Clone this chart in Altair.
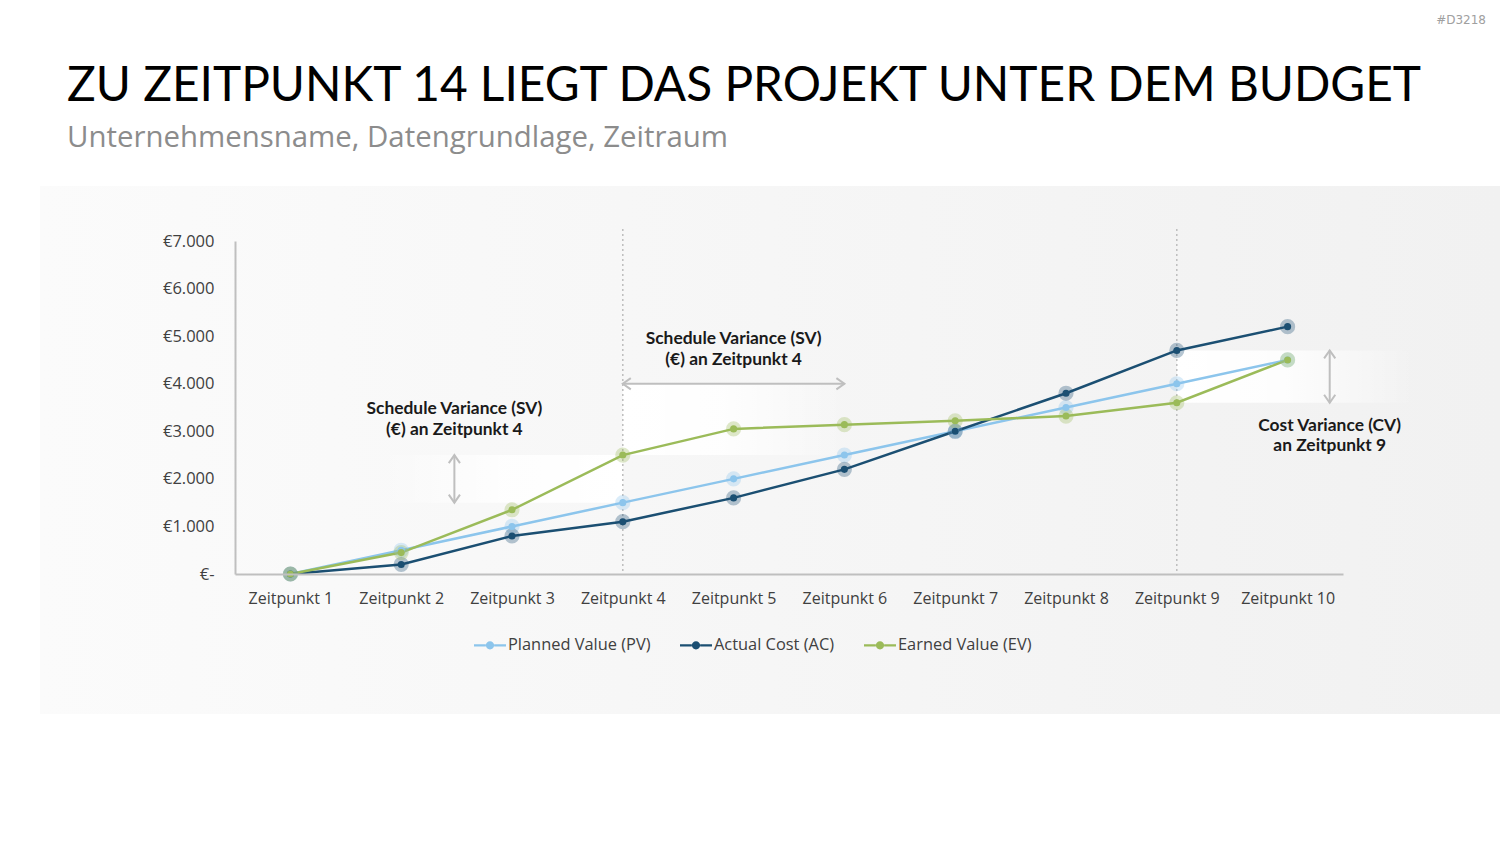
import altair as alt
import pandas as pd

# ---- data -------------------------------------------------------------
zeitpunkte = ["Zeitpunkt 1", "Zeitpunkt 2", "Zeitpunkt 3", "Zeitpunkt 4", "Zeitpunkt 5",
              "Zeitpunkt 6", "Zeitpunkt 7", "Zeitpunkt 8", "Zeitpunkt 9", "Zeitpunkt 10"]
planned_value = [0, 500, 1000, 1500, 2000, 2500, 3000, 3500, 4000, 4500]
actual_cost = [0, 200, 800, 1100, 1600, 2200, 3000, 3800, 4700, 5200]
earned_value = [0, 450, 1350, 2500, 3050, 3140, 3220, 3320, 3600, 4500]
series_names = ["Planned Value (PV)", "Actual Cost (AC)", "Earned Value (EV)"]
series_colors = ["#8cc5ec", "#1b4f72", "#9bbb59"]
y_ticks = [0, 1000, 2000, 3000, 4000, 5000, 6000, 7000]

title_text = "ZU ZEITPUNKT 14 LIEGT DAS PROJEKT UNTER DEM BUDGET"
subtitle_text = "Unternehmensname, Datengrundlage, Zeitraum"
code_text = "#D3218"

# annotation lines: text, x (time index), y (EUR)
note_text = ["Schedule Variance (SV)", "(€) an Zeitpunkt 4",
             "Schedule Variance (SV)", "(€) an Zeitpunkt 4",
             "Cost Variance (CV)", "an Zeitpunkt 9"]
note_x = [2.48, 2.48, 5.0, 5.0, 10.38, 10.38]
note_y = [3470, 3030, 4940, 4500, 3110, 2690]

# double arrows (start/end in data units)
arrow_x1 = [2.48, 4.0, 10.38]
arrow_x2 = [2.48, 6.0, 10.38]
arrow_y1 = [1500, 4000, 3600]
arrow_y2 = [2500, 4000, 4700]

marker_x = [4, 9]

# ---- tables -----------------------------------------------------------
idx = list(range(1, len(zeitpunkte) + 1))
rows = []
for name, vals in zip(series_names, [planned_value, actual_cost, earned_value]):
    for i, v in zip(idx, vals):
        rows.append({"t": i, "wert": v, "serie": name})
series_df = pd.DataFrame(rows)

notes_df = pd.DataFrame({"text": note_text, "x": note_x, "y": note_y})
shafts_df = pd.DataFrame({"x": arrow_x1, "x2": arrow_x2, "y": arrow_y1, "y2": arrow_y2})

UP = "M-0.7,1L0,0L0.7,1"
DOWN = "M-0.7,-1L0,0L0.7,-1"
LEFT = "M1,-0.7L0,0L1,0.7"
RIGHT = "M-1,-0.7L0,0L-1,0.7"
heads = []
for x1, x2, y1, y2 in zip(arrow_x1, arrow_x2, arrow_y1, arrow_y2):
    if x1 == x2:
        heads.append({"x": x1, "y": y1, "s": DOWN})
        heads.append({"x": x1, "y": y2, "s": UP})
    else:
        heads.append({"x": x1, "y": y1, "s": LEFT})
        heads.append({"x": x2, "y": y2, "s": RIGHT})
heads_df = pd.DataFrame(heads)

markers_df = pd.DataFrame({"t": marker_x})
bands_a = pd.DataFrame({"x": [1.78], "x2": [4.0], "y": [1500], "y2": [2500]})
bands_b = pd.DataFrame({"x": [4.0, 9.0], "x2": [6.0, 11.15], "y": [2500, 3600], "y2": [4000, 4700]})
one = pd.DataFrame({"k": [0]})

# ---- scales -----------------------------------------------------------
xs = alt.Scale(domain=[0.5, 10.5], nice=False, zero=False)
ys = alt.Scale(domain=[0, 7000], nice=False)


def series_scale():
    return alt.Scale(domain=series_names, range=series_colors)


label_list = "[" + ",".join("'" + z + "'" for z in zeitpunkte) + "]"
x_axis = alt.Axis(values=idx, labelExpr=label_list + "[datum.value - 1]", title=None,
                  grid=False, ticks=False, domainColor="#bfbfbf", domainWidth=2,
                  labelPadding=16, labelFont="Open Sans", labelFontSize=16,
                  labelColor="#404040", zindex=1)
y_axis = alt.Axis(values=y_ticks,
                  labelExpr="datum.value == 0 ? '€-' : '€' + replace(format(datum.value, ','), ',', '.')",
                  title=None, grid=False, ticks=False, domainColor="#bfbfbf", domainWidth=2,
                  labelPadding=21, labelFont="Open Sans", labelFontSize=16.5,
                  labelColor="#404040", zindex=1)

W, H = 1108, 333

# ---- layers -----------------------------------------------------------
panel = alt.Chart(one).mark_rect(
    fill=alt.LinearGradient(gradient="linear", x1=0, x2=1, y1=0, y2=0,
                            stops=[alt.GradientStop(offset=0, color="#fbfbfb"),
                                   alt.GradientStop(offset=1, color="#f1f1f1")])
).encode(x=alt.value(-195), x2=alt.value(1265), y=alt.value(-55), y2=alt.value(473))

band_left = alt.Chart(bands_a).mark_rect(
    fill=alt.LinearGradient(gradient="linear", x1=0, x2=1, y1=0, y2=0,
                            stops=[alt.GradientStop(offset=0, color="rgba(255,255,255,0)"),
                                   alt.GradientStop(offset=0.5, color="rgba(255,255,255,0.8)"),
                                   alt.GradientStop(offset=1, color="#ffffff")])
).encode(x=alt.X("x:Q", scale=xs, axis=x_axis), x2="x2:Q",
         y=alt.Y("y:Q", scale=ys, axis=y_axis), y2="y2:Q")

band_right = alt.Chart(bands_b).mark_rect(
    fill=alt.LinearGradient(gradient="linear", x1=0, x2=1, y1=0, y2=0,
                            stops=[alt.GradientStop(offset=0, color="#ffffff"),
                                   alt.GradientStop(offset=0.45, color="rgba(255,255,255,0.85)"),
                                   alt.GradientStop(offset=1, color="rgba(255,255,255,0)")])
).encode(x=alt.X("x:Q", scale=xs), x2="x2:Q", y=alt.Y("y:Q", scale=ys), y2="y2:Q")

markers = alt.Chart(markers_df).mark_rule(color="#bdbdbd", strokeWidth=1.5, strokeDash=[2, 3]).encode(
    x=alt.X("t:Q", scale=xs), y=alt.value(-12), y2=alt.value(H))

shafts = alt.Chart(shafts_df).mark_rule(color="#bfbfbf", strokeWidth=2).encode(
    x=alt.X("x:Q", scale=xs), x2="x2:Q", y=alt.Y("y:Q", scale=ys), y2="y2:Q")

heads_layer = alt.Chart(heads_df).mark_point(filled=False, color="#bfbfbf", strokeWidth=2,
                                             size=256, opacity=1).encode(
    x=alt.X("x:Q", scale=xs), y=alt.Y("y:Q", scale=ys),
    shape=alt.Shape("s:N", scale=None, legend=None))

lines = alt.Chart(series_df).mark_line(strokeWidth=2.5).encode(
    x=alt.X("t:Q", scale=xs), y=alt.Y("wert:Q", scale=ys),
    stroke=alt.Stroke("serie:N", scale=series_scale(), legend=None), detail="serie:N")

halos = alt.Chart(series_df).mark_circle(size=230, opacity=0.32).encode(
    x=alt.X("t:Q", scale=xs), y=alt.Y("wert:Q", scale=ys),
    fill=alt.Fill("serie:N", scale=series_scale(), legend=None))

dots = alt.Chart(series_df).mark_circle(size=50, opacity=1).encode(
    x=alt.X("t:Q", scale=xs), y=alt.Y("wert:Q", scale=ys),
    color=alt.Color("serie:N", scale=series_scale(), sort=series_names, legend=alt.Legend(
        title=None, orient="none", direction="horizontal", legendX=239, legendY=388,
        symbolType="M-1,-0.07H-0.26V0.07H-1Z M0.26,-0.07H1V0.07H0.26Z "
                   "M-0.26,0A0.26,0.26 0 1,0 0.26,0A0.26,0.26 0 1,0 -0.26,0Z",
        symbolSize=1024, symbolStrokeWidth=0, symbolOpacity=1, labelOffset=2,
        columnPadding=29, labelFont="Open Sans", labelFontSize=16.4,
        labelColor="#404040", zindex=1)))

notes = alt.Chart(notes_df).mark_text(font="Lato", fontWeight="bold", fontSize=17.4,
                                      color="#1a1a1a", align="center", baseline="middle").encode(
    x=alt.X("x:Q", scale=xs), y=alt.Y("y:Q", scale=ys), text="text:N")

title = alt.Chart(pd.DataFrame({"text": [title_text]})).mark_text(
    font="Lato", fontSize=47.8, color="#000000", align="left", baseline="alphabetic").encode(
    x=alt.value(-168), y=alt.value(-140), text="text:N")

subtitle = alt.Chart(pd.DataFrame({"text": [subtitle_text]})).mark_text(
    font="Open Sans", fontSize=29.4, color="#8c8c8c", align="left", baseline="alphabetic").encode(
    x=alt.value(-168), y=alt.value(-94), text="text:N")

code = alt.Chart(pd.DataFrame({"text": [code_text]})).mark_text(
    font="DejaVu Sans", fontSize=12, color="#a0a0a0", align="right", baseline="middle").encode(
    x=alt.value(1251), y=alt.value(-221), text="text:N")

chart = alt.layer(
    panel, band_left, band_right, markers, shafts, heads_layer,
    lines, halos, dots, notes, title, subtitle, code
).resolve_scale(
    color="independent", fill="independent", stroke="independent"
).properties(
    width=W, height=H,
    autosize=alt.AutoSizeParams(type="none"),
    padding={"left": 235, "top": 241, "right": 157, "bottom": 270},
    background="#ffffff"
).configure_view(stroke=None)

chart.save("out.html", embed_options={"renderer": "svg", "actions": False})
